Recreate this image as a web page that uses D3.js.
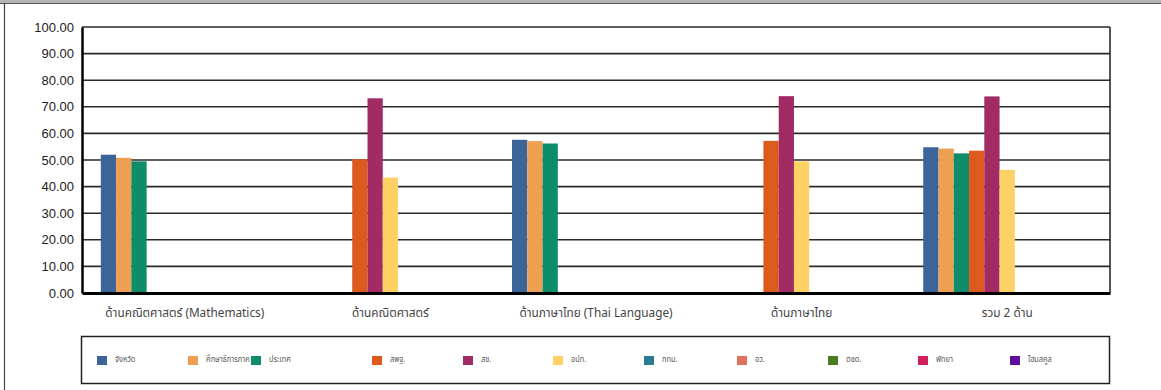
<!DOCTYPE html>
<html><head><meta charset="utf-8">
<script src="https://cdn.jsdelivr.net/npm/d3@7"></script>
<style>
html,body{margin:0;padding:0;background:#fff;}
svg{display:block;}
</style></head>
<body>
<script>
const categories = ["ด้านคณิตศาสตร์ (Mathematics)", "ด้านคณิตศาสตร์", "ด้านภาษาไทย (Thai Language)", "ด้านภาษาไทย", "รวม 2 ด้าน"];
const seriesNames = ["จังหวัด", "ศึกษาธิการภาค", "ประเทศ", "สพฐ.", "สช.", "อปท.", "กทม.", "อว.", "ตชด.", "พัทยา", "โฮมสคูล"];
const seriesColors = ["#3b6599", "#eea052", "#0f8c69", "#dd5a1f", "#a22b64", "#fdd163", "#2b7b95", "#e2705f", "#4a7b1c", "#d0215b", "#5c0f9e"];
const valProvince   = [52.0, null, 57.6, null, 54.8];
const valRegion     = [50.8, null, 57.1, null, 54.3];
const valCountry    = [49.5, null, 56.2, null, 52.5];
const valOBEC       = [null, 50.3, null, 57.2, 53.5];
const valPrivate    = [null, 73.2, null, 74.0, 73.9];
const valLocal      = [null, 43.4, null, 49.5, 46.3];
const valBMA        = [null, null, null, null, null];
const valHigherEd   = [null, null, null, null, null];
const valBorderPol  = [null, null, null, null, null];
const valPattaya    = [null, null, null, null, null];
const valHomeSchool = [null, null, null, null, null];
const yTicks = [0, 10, 20, 30, 40, 50, 60, 70, 80, 90, 100];

const seriesValues = [valProvince, valRegion, valCountry, valOBEC, valPrivate, valLocal, valBMA, valHigherEd, valBorderPol, valPattaya, valHomeSchool];

const W = 1161, H = 390;
const m = {left: 82, right: 51, top: 27, bottom: 97};
const pw = W - m.left - m.right, ph = H - m.top - m.bottom;
const thaiFont = "'Noto Sans Thai','Noto Sans Thai UI','Tahoma','Noto Sans','DejaVu Sans',sans-serif";

const svg = d3.select("body").append("svg").attr("width", W).attr("height", H);

// outer frame
svg.append("rect").attr("x", 0).attr("y", 0).attr("width", W).attr("height", 3).attr("fill", "#b5b5b5");
svg.append("line").attr("x1", 0).attr("x2", W).attr("y1", 3.5).attr("y2", 3.5).attr("stroke", "#555").attr("stroke-width", 1);
svg.append("line").attr("x1", 4.5).attr("x2", 4.5).attr("y1", 3).attr("y2", H).attr("stroke", "#444").attr("stroke-width", 1.2);

const x0 = d3.scaleBand().domain(categories).range([0, pw]).paddingInner(0.183).paddingOuter(0.0915);
const x1 = d3.scaleBand().domain(seriesNames).range([0, x0.bandwidth()]);
const y = d3.scaleLinear().domain([0, 100]).range([ph, 0]);

const g = svg.append("g").attr("transform", `translate(${m.left},${m.top})`);

// gridlines
g.append("g").selectAll("line").data(yTicks.filter(t => t > 0)).join("line")
  .attr("x1", 0).attr("x2", pw).attr("y1", d => y(d)).attr("y2", d => y(d))
  .attr("stroke", "#2a2a2a").attr("stroke-width", 1.6);
// right border
g.append("line").attr("x1", pw).attr("x2", pw).attr("y1", 0).attr("y2", ph).attr("stroke", "#2a2a2a").attr("stroke-width", 1.6);

// bars
const rows = [];
seriesNames.forEach((s, si) => categories.forEach((c, ci) => {
  const v = seriesValues[si][ci];
  if (v != null) rows.push({s, c, v, color: seriesColors[si]});
}));
g.append("g").selectAll("rect").data(rows).join("rect")
  .attr("x", d => x0(d.c) + x1(d.s))
  .attr("width", x1.bandwidth())
  .attr("y", d => y(d.v))
  .attr("height", d => ph - y(d.v))
  .attr("fill", d => d.color);

// y axis
const yAxis = g.append("g").call(d3.axisLeft(y).tickValues(yTicks).tickFormat(d3.format(".2f")).tickSize(0).tickPadding(8));
yAxis.select(".domain").attr("stroke", "#000").attr("stroke-width", 2.5);
yAxis.selectAll("text").attr("font-family", "'Liberation Sans',Arial,sans-serif").attr("font-size", 13).attr("fill", "#222");

// x axis
const xAxis = g.append("g").attr("transform", `translate(0,${ph})`).call(d3.axisBottom(x0).tickSize(0).tickPadding(16));
xAxis.select(".domain").attr("stroke", "#000").attr("stroke-width", 3);
xAxis.selectAll("text").attr("font-family", thaiFont).attr("font-size", 11.8).attr("fill", "#444");

// legend
const lg = svg.append("g");
lg.append("rect").attr("x", 81.5).attr("y", 336.5).attr("width", 1028).attr("height", 47)
  .attr("fill", "#fff").attr("stroke", "#222").attr("stroke-width", 1.5);
const legendX = [97, 188, 251, 372, 463, 553, 644, 737, 828, 918, 1010];
const items = lg.selectAll("g.item").data(seriesNames).join("g").attr("class", "item")
  .attr("transform", (d, i) => `translate(${legendX[i]},356)`);
items.append("rect").attr("width", 10).attr("height", 9).attr("fill", (d, i) => seriesColors[i]);
items.append("text").attr("transform", "translate(18,5.5) scale(0.82,1)").text(d => d)
  .attr("font-family", thaiFont).attr("font-size", 9).attr("fill", "#555");
</script>
</body></html>
